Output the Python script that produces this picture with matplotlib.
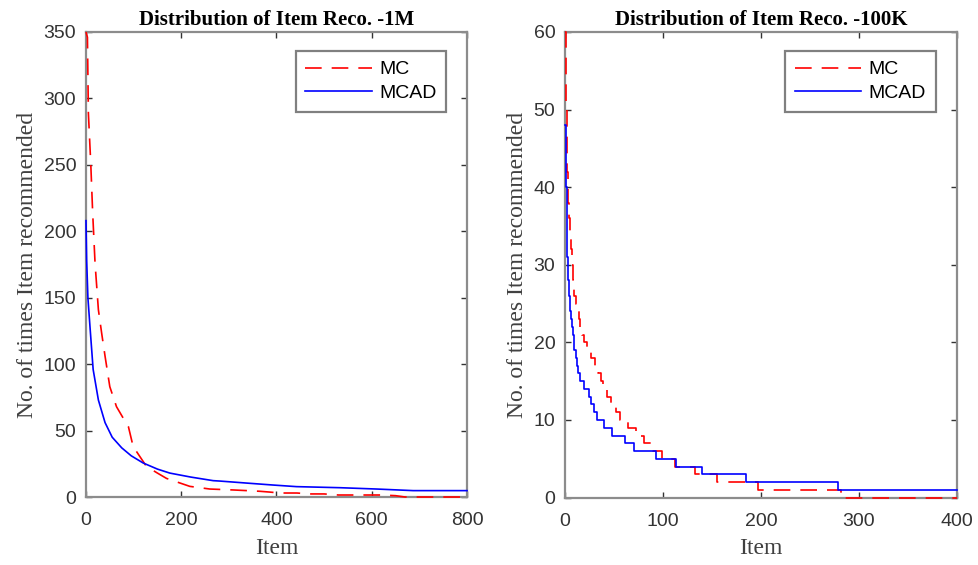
import numpy as np
import matplotlib
matplotlib.use("Agg")
import matplotlib.pyplot as plt

# ---------------------- data -------------------------------------------#
# left panel: 1M dataset (item rank -> times recommended)
mc_1m_x = [0, 3, 5, 10, 14, 19, 26, 33, 40, 50, 64, 82, 89, 99, 127, 150, 169,
           218, 260, 309, 338, 365, 386, 407, 443, 470, 500, 530, 570, 620, 650, 670, 800]
mc_1m_y = [350, 346, 289, 251, 214, 176, 141, 123, 106, 83, 68, 57, 53, 38, 23, 18, 14,
           8, 6, 5.3, 4.8, 4.3, 3.7, 3, 3, 2.3, 2.3, 1.5, 1.5, 1.5, 1, 0, 0]

mcad_1m_x = [0, 1.4, 4, 8.4, 15, 26, 40, 55, 75, 95, 120, 150, 176, 220, 267, 281,
             344, 393, 442, 533, 610, 687, 800]
mcad_1m_y = [208, 178, 150, 128, 96, 73, 56, 45, 37, 31, 25.6, 21, 18, 15, 12.3, 12,
             10.3, 9, 7.8, 7, 6, 4.8, 4.8]

# right panel: 100K dataset, counts are integers -> step curves (level start, level)
mc_100k_x = [0, 1, 2, 3, 4, 5, 6, 7, 8, 9, 11, 12, 14, 15, 17, 19, 22, 27, 31, 34, 37,
             39, 43, 47, 52, 56, 64, 72, 81, 90, 99, 112, 133, 155, 197, 282, 400]
mc_100k_y = [60, 50, 42, 38, 36, 34, 32, 30, 28, 26, 25, 24, 23, 22, 21, 20, 19, 18, 17,
             16, 15, 14, 13, 12, 11, 10, 9, 8, 7, 6, 5, 4, 3, 2, 1, 0, 0]

mcad_100k_x = [0, 1, 2, 3, 4, 5, 6, 7, 8, 9, 11, 12, 13, 15, 19, 24, 27, 30, 33, 40,
               48, 61, 70, 93, 113, 140, 185, 279, 400]
mcad_100k_y = [48, 40, 31, 28, 26, 24, 23, 22, 21, 19, 18, 17, 16, 15, 14, 13, 12, 11,
               10, 9, 8, 7, 6, 5, 4, 3, 2, 1, 1]

titles = ["Distribution of Item Reco. -1M", "Distribution of Item Reco. -100K"]
series_labels = ["MC", "MCAD"]
xlims = [800, 400]
ylims = [350, 60]
xticks = [[0, 200, 400, 600, 800], [0, 100, 200, 300, 400]]
yticks = [[0, 50, 100, 150, 200, 250, 300, 350], [0, 10, 20, 30, 40, 50, 60]]

# ---------------------- figure ------------------------#
fig = plt.figure(figsize=(9.79, 5.65), dpi=100)
ax1 = fig.add_axes([86 / 979, 1 - 497 / 565, 381 / 979, 465 / 565])
ax2 = fig.add_axes([565 / 979, 1 - 497.6 / 565, 392 / 979, 465.6 / 565])

dash = (0, (10, 6))
# zorder 3 / no clipping so the curves lying on y=0 show over the grey box
ax1.plot(mc_1m_x, mc_1m_y, color="#ff0000", lw=1.2, linestyle=dash, zorder=3,
         clip_on=False, label=series_labels[0])
ax1.plot(mcad_1m_x, mcad_1m_y, color="#0000ff", lw=1.2, zorder=3,
         clip_on=False, label=series_labels[1])

ax2.plot(mc_100k_x, mc_100k_y, color="#ff0000", lw=1.2, linestyle=dash, zorder=3,
         clip_on=False, drawstyle="steps-post", label=series_labels[0])
ax2.plot(mcad_100k_x, mcad_100k_y, color="#0000ff", lw=1.2, zorder=3,
         clip_on=False, drawstyle="steps-post", label=series_labels[1])

for i, ax in enumerate([ax1, ax2]):
    ax.set_xlim(0, xlims[i])
    ax.set_ylim(0, ylims[i])
    ax.set_xticks(xticks[i])
    ax.set_yticks(yticks[i])
    # matlab look: ticks inside, on every side, grey box
    ax.tick_params(direction="in", length=4, width=1, color="#333333",
                   top=True, right=True, labelsize=14, labelcolor="#333333")
    ax.tick_params(axis="x", pad=11)
    ax.tick_params(axis="y", pad=7)
    for lab in ax.get_xticklabels() + ax.get_yticklabels():
        lab.set_family("Liberation Sans")
    for sp in ax.spines.values():
        sp.set_color("#8c8c8c")
        sp.set_linewidth(1.6)
    ax.set_title(titles[i], family="Liberation Serif", fontweight="bold",
                 fontsize=15, pad=5)
    ax.set_xlabel("Item", family="Liberation Serif", fontsize=17, color="#404040",
                  labelpad=6)
    ax.set_ylabel("No. of times Item recommended", family="Liberation Serif",
                  fontsize=17, color="#404040", labelpad=4)
    leg = ax.legend(loc="upper right", bbox_to_anchor=(0.946, 0.959),
                    borderaxespad=0, fancybox=False, framealpha=1,
                    prop={"family": "Liberation Sans", "size": 14},
                    handlelength=3.4, handletextpad=0.4, borderpad=0.5,
                    labelspacing=0.3)
    leg.get_frame().set_edgecolor("#808080")
    leg.get_frame().set_linewidth(1.6)

plt.savefig("out.png", dpi=100)
